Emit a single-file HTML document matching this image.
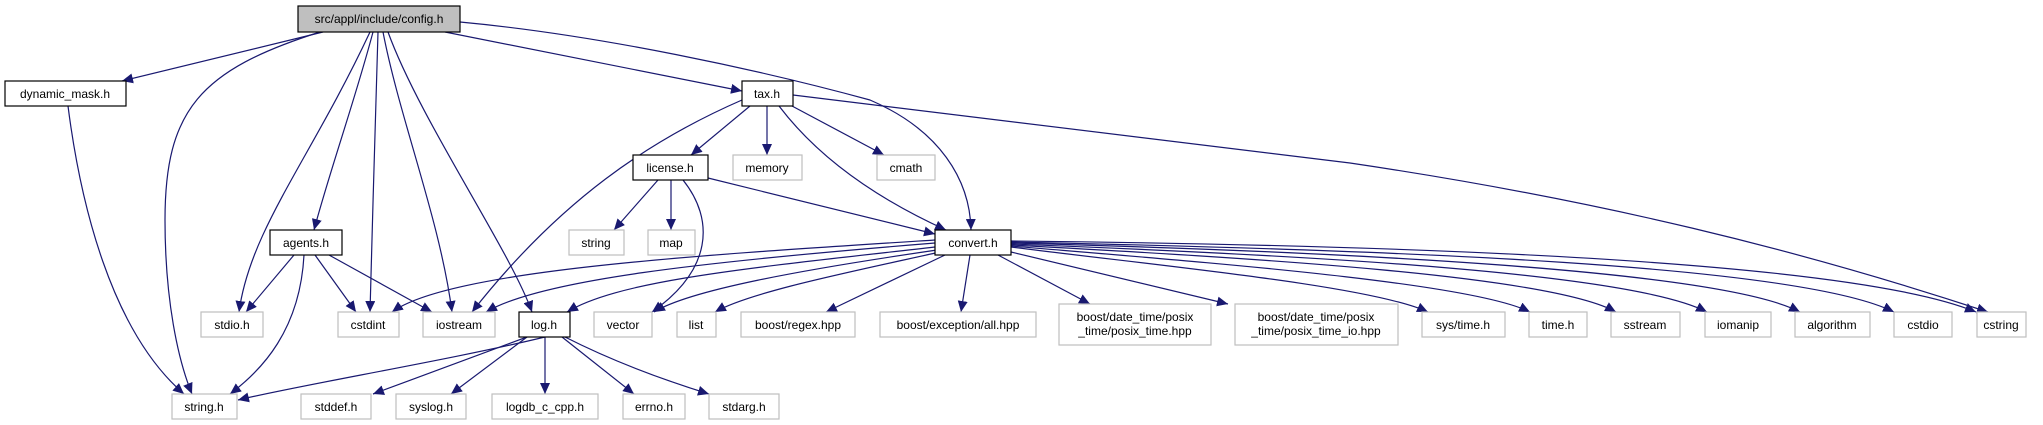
<!DOCTYPE html>
<html><head><meta charset="utf-8"><style>
html,body{margin:0;padding:0;background:#fff;}
svg{display:block;}
text{font-family:"Liberation Sans",sans-serif;font-size:12px;fill:#000;}
</style></head><body>
<svg width="2043" height="425" viewBox="0 0 2043 425" xmlns="http://www.w3.org/2000/svg">
<defs>
<marker id="a" markerUnits="userSpaceOnUse" markerWidth="12" markerHeight="10" refX="11" refY="5" orient="auto">
<path d="M0,0 L11,5 L0,10 Z" fill="#191970"/>
</marker>
</defs>
<g fill="none" stroke="#191970" stroke-width="1.2" marker-end="url(#a)">
<path d="M323,32 L122,81"/>
<path d="M320,32 C200,70 165,110 165,220 C165,300 178,360 192,394"/>
<path d="M370,32 C310,160 250,230 239,312"/>
<path d="M373,32 C355,100 330,170 314,230"/>
<path d="M378,32 C376,120 372,220 370,312"/>
<path d="M383,32 C400,120 440,220 452,312"/>
<path d="M388,32 C420,120 510,250 532,312"/>
<path d="M445,32 L742,91"/>
<path d="M460,22 C600,35 760,70 870,100 C940,130 970,180 971,230"/>
<path d="M68,106 C80,200 110,330 184,394"/>
<path d="M294,255 L246,312"/>
<path d="M304,255 C300,330 262,370 230,394"/>
<path d="M315,255 L356,312"/>
<path d="M329,255 L432,312"/>
<path d="M658,180 L614,230"/>
<path d="M671,180 L671,230"/>
<path d="M683,180 C715,220 712,270 652,312"/>
<path d="M708,178 L935,234"/>
<path d="M750,106 L691,155"/>
<path d="M767,106 L767,155"/>
<path d="M792,106 L884,155"/>
<path d="M779,106 C820,160 880,200 946,230"/>
<path d="M742,100 C650,140 560,200 472,312"/>
<path d="M793,95 L1350,163 C1600,200 1800,250 1988,312"/>
<path d="M935,240 C700,255 450,270 392,312"/>
<path d="M935,243 C700,262 540,280 486,312"/>
<path d="M935,247 C750,268 620,280 567,312"/>
<path d="M937,250 C800,270 690,290 654,312"/>
<path d="M940,252 C850,272 750,292 715,312"/>
<path d="M945,255 L826,312"/>
<path d="M970,255 L961,312"/>
<path d="M998,255 L1090,304"/>
<path d="M1011,252 L1228,304"/>
<path d="M1011,247 C1150,265 1370,285 1428,312"/>
<path d="M1011,246 C1200,262 1470,282 1530,312"/>
<path d="M1011,245 C1250,258 1550,275 1616,312"/>
<path d="M1011,244 C1300,255 1630,272 1707,312"/>
<path d="M1011,243 C1350,252 1720,270 1800,312"/>
<path d="M1011,242 C1400,250 1800,265 1894,312"/>
<path d="M1011,241 C1400,245 1850,260 1976,312"/>
<path d="M545,337 C450,360 300,385 238,400"/>
<path d="M527,337 L373,394"/>
<path d="M527,337 L451,394"/>
<path d="M545,337 L545,394"/>
<path d="M562,337 L634,394"/>
<path d="M565,337 C620,365 680,385 709,394"/>
</g>
<g stroke-width="1.2">
<rect x="298" y="6" width="162" height="26" fill="#bfbfbf" stroke="#000"/>
<text x="379" y="23" text-anchor="middle">src/appl/include/config.h</text>
<g fill="#fff" stroke="#000">
<rect x="5" y="81" width="121" height="25"/>
<rect x="270" y="230" width="72" height="25"/>
<rect x="633" y="155" width="75" height="25"/>
<rect x="742" y="81" width="51" height="25"/>
<rect x="935" y="230" width="76" height="25"/>
<rect x="519" y="312" width="51" height="25"/>
</g>
<g fill="#fff" stroke="#bfbfbf">
<rect x="201" y="312" width="62" height="25"/>
<rect x="338" y="312" width="61" height="25"/>
<rect x="423" y="312" width="72" height="25"/>
<rect x="594" y="312" width="58" height="25"/>
<rect x="677" y="312" width="39" height="25"/>
<rect x="741" y="312" width="114" height="25"/>
<rect x="880" y="312" width="156" height="25"/>
<rect x="1059" y="304" width="152" height="41"/>
<rect x="1235" y="304" width="163" height="41"/>
<rect x="1422" y="312" width="83" height="25"/>
<rect x="1529" y="312" width="58" height="25"/>
<rect x="1611" y="312" width="69" height="25"/>
<rect x="1705" y="312" width="66" height="25"/>
<rect x="1795" y="312" width="75" height="25"/>
<rect x="1894" y="312" width="58" height="25"/>
<rect x="1977" y="312" width="49" height="25"/>
<rect x="172" y="394" width="65" height="25"/>
<rect x="301" y="394" width="70" height="25"/>
<rect x="396" y="394" width="70" height="25"/>
<rect x="492" y="394" width="106" height="25"/>
<rect x="623" y="394" width="62" height="25"/>
<rect x="709" y="394" width="70" height="25"/>
<rect x="569" y="230" width="55" height="25"/>
<rect x="648" y="230" width="47" height="25"/>
<rect x="733" y="155" width="69" height="25"/>
<rect x="877" y="155" width="58" height="25"/>
</g>
</g>
<g text-anchor="middle">
<text x="65" y="98">dynamic_mask.h</text>
<text x="306" y="247">agents.h</text>
<text x="670" y="172">license.h</text>
<text x="767" y="98">tax.h</text>
<text x="973" y="247">convert.h</text>
<text x="544" y="329">log.h</text>
<text x="232" y="329">stdio.h</text>
<text x="368" y="329">cstdint</text>
<text x="459" y="329">iostream</text>
<text x="623" y="329">vector</text>
<text x="696" y="329">list</text>
<text x="798" y="329">boost/regex.hpp</text>
<text x="958" y="329">boost/exception/all.hpp</text>
<text x="1135" y="321">boost/date_time/posix</text>
<text x="1135" y="335">_time/posix_time.hpp</text>
<text x="1316" y="321">boost/date_time/posix</text>
<text x="1316" y="335">_time/posix_time_io.hpp</text>
<text x="1463" y="329">sys/time.h</text>
<text x="1558" y="329">time.h</text>
<text x="1645" y="329">sstream</text>
<text x="1738" y="329">iomanip</text>
<text x="1832" y="329">algorithm</text>
<text x="1923" y="329">cstdio</text>
<text x="2001" y="329">cstring</text>
<text x="204" y="411">string.h</text>
<text x="336" y="411">stddef.h</text>
<text x="431" y="411">syslog.h</text>
<text x="545" y="411">logdb_c_cpp.h</text>
<text x="654" y="411">errno.h</text>
<text x="744" y="411">stdarg.h</text>
<text x="596" y="247">string</text>
<text x="671" y="247">map</text>
<text x="767" y="172">memory</text>
<text x="906" y="172">cmath</text>
</g>
</svg>
</body></html>
